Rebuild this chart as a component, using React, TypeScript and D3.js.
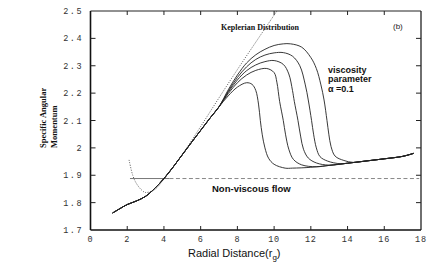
import React from "react";
import * as d3 from "d3";

// tick values and labels
const xTicks = [0, 2, 4, 6, 8, 10, 12, 14, 16, 18];
const yTicks = [1.7, 1.8, 1.9, 2, 2.1, 2.2, 2.3, 2.4, 2.5];
const yTickLabels = ["1.7", "1.8", "1.9", "2", "2.1", "2.2", "2.3", "2.4", "2.5"];

// common rising branch (shared by all viscous curves)
const rising = [[1.2, 1.762], [1.6, 1.778], [2, 1.793], [2.5, 1.806], [3, 1.823], [3.5, 1.852], [4, 1.888], [4.5, 1.93], [5, 1.975], [5.5, 2.02], [6, 2.064], [6.5, 2.108], [7, 2.15]];

// the five viscous curves after they fan out
const curve1 = [[7.5, 2.19], [8, 2.222], [8.5, 2.238], [8.8, 2.232], [9.0, 2.21], [9.15, 2.16], [9.25, 2.1], [9.35, 2.05], [9.5, 2.0], [9.7, 1.962], [10.0, 1.94], [10.6, 1.926]];
const curve2 = [[7.5, 2.198], [8, 2.238], [8.5, 2.266], [9, 2.283], [9.6, 2.29], [10.0, 2.275], [10.15, 2.24], [10.3, 2.17], [10.5, 2.1], [10.62, 2.05], [10.8, 1.995], [11.05, 1.958], [11.5, 1.938], [12.3, 1.931]];
const curve3 = [[7.5, 2.203], [8, 2.248], [8.5, 2.282], [9, 2.303], [9.5, 2.315], [10, 2.319], [10.5, 2.305], [10.8, 2.27], [11.0, 2.21], [11.1, 2.17], [11.3, 2.1], [11.45, 2.04], [11.6, 1.995], [11.86, 1.963], [12.3, 1.945], [13.0, 1.937]];
const curve4 = [[7.5, 2.207], [8, 2.257], [8.5, 2.296], [9, 2.323], [9.5, 2.339], [10, 2.347], [10.5, 2.348], [11, 2.335], [11.4, 2.3], [11.7, 2.23], [11.86, 2.175], [12.04, 2.1], [12.15, 2.05], [12.3, 2.0], [12.5, 1.968], [12.9, 1.952], [13.6, 1.942]];
const curve5 = [[7.5, 2.212], [8, 2.266], [8.5, 2.31], [9, 2.34], [9.5, 2.36], [10, 2.374], [10.5, 2.38], [10.9, 2.38], [11.5, 2.368], [12.0, 2.33], [12.3, 2.29], [12.55, 2.23], [12.72, 2.175], [12.88, 2.1], [12.98, 2.05], [13.1, 2.005], [13.32, 1.97], [13.8, 1.954], [14.3, 1.947]];

// lower branch all curves settle onto
const tail = [[10.6, 1.926], [11, 1.926], [12, 1.929], [13, 1.936], [14, 1.944], [15, 1.952], [16, 1.96], [17, 1.969], [17.6, 1.98]];

// keplerian distribution (dotted)
const kepler = [[2.1, 1.956], [2.3, 1.9], [2.5, 1.87], [2.8, 1.845], [3, 1.837], [3.5, 1.848], [4, 1.886], [5, 1.976], [6, 2.078], [7, 2.183], [8, 2.286], [9, 2.386], [10, 2.485], [10.15, 2.5]];

// non-viscous flow
const nonViscousSolid = [[2.15, 1.888], [4.3, 1.888]];
const nonViscousDashed = [[4.3, 1.888], [17.9, 1.888]];

const viscous = [curve1, curve2, curve3, curve4, curve5];

export default function App() {
  const x = d3.scaleLinear().domain([0, 18]).range([90.5, 421]);
  const y = d3.scaleLinear().domain([1.7, 2.5]).range([230, 11]);
  const line = d3.line<number[]>().x(d => x(d[0])).y(d => y(d[1])).curve(d3.curveCatmullRom.alpha(0.5));
  const straight = d3.line<number[]>().x(d => x(d[0])).y(d => y(d[1]));

  const full = (c: number[][]) => {
    const last = c[c.length - 1][0];
    return [...rising, ...c, ...tail.filter(p => p[0] > last + 0.3)];
  };

  const serif = "'Liberation Serif', 'DejaVu Serif', serif";
  const sans = "'Liberation Sans', Arial, sans-serif";
  const mono = "'Liberation Mono', 'DejaVu Sans Mono', monospace";
  const [x0, x1] = x.range();
  const [y0, y1] = y.range();

  return (
    <svg width={436} height={273} style={{ position: "absolute", left: 0, top: 0, background: "#fff" }}>
      {/* frame */}
      <line x1={x0} x2={x1} y1={y1} y2={y1} stroke="#222" strokeWidth={1} />
      <line x1={x1} x2={x1} y1={y1} y2={y0} stroke="#222" strokeWidth={1.3} />
      <line x1={x0} x2={x0} y1={y1} y2={y0} stroke="#111" strokeWidth={1.6} />
      <line x1={x0} x2={x1} y1={y0} y2={y0} stroke="#111" strokeWidth={1.6} />

      {/* ticks */}
      {xTicks.slice(1, -1).map(t => (
        <g key={"xt" + t}>
          <line x1={x(t)} x2={x(t)} y1={y0} y2={y0 - 4} stroke="#222" />
          <line x1={x(t)} x2={x(t)} y1={y1} y2={y1 + 4} stroke="#222" />
        </g>
      ))}
      {yTicks.slice(1, -1).map(t => (
        <g key={"yt" + t}>
          <line x1={x0} x2={x0 + 5} y1={y(t)} y2={y(t)} stroke="#222" />
          <line x1={x1} x2={x1 - 5} y1={y(t)} y2={y(t)} stroke="#222" />
        </g>
      ))}
      {xTicks.map(t => (
        <text key={"xl" + t} x={x(t)} y={242} textAnchor="middle" fontFamily={mono} fontSize={8.5} fill="#333" letterSpacing={0.8}>{t}</text>
      ))}
      {yTicks.map((t, i) => (
        <text key={"yl" + t} x={83} y={y(t) + 3} textAnchor="end" fontFamily={mono} fontSize={8.5} fill="#333" letterSpacing={1.5}>{yTickLabels[i]}</text>
      ))}

      {/* axis titles */}
      <text transform="translate(46,148) rotate(-90)" fontFamily={serif} fontWeight="bold" fontSize={8.5} fill="#111">Specific Angular</text>
      <text transform="translate(57,148) rotate(-90)" fontFamily={serif} fontWeight="bold" fontSize={8.5} fill="#111">Momentum</text>
      <text x={188} y={257} fontFamily={sans} fontSize={11} fill="#111">
        Radial Distance(r<tspan fontSize={8} dy={3}>g</tspan><tspan dy={-3}>)</tspan>
      </text>

      {/* curves */}
      <path d={line(kepler) || ""} fill="none" stroke="#444" strokeWidth={0.9} strokeDasharray="1,1.5" />
      <path d={straight(nonViscousSolid) || ""} fill="none" stroke="#777" strokeWidth={1} />
      <path d={straight(nonViscousDashed) || ""} fill="none" stroke="#888" strokeWidth={1} strokeDasharray="4,2.5" />
      {viscous.map((c, i) => (
        <path key={"c" + i} d={line(full(c)) || ""} fill="none" stroke="#222" strokeWidth={0.9} />
      ))}

      {/* annotations */}
      <text x={221} y={30} fontFamily={serif} fontWeight="bold" fontSize={8} fill="#111">Keplerian Distribution</text>
      <text x={393} y={29} fontFamily={sans} fontSize={8} fill="#222">(b)</text>
      <text x={328} y={73} fontFamily={sans} fontWeight="bold" fontSize={9} fill="#111">viscosity</text>
      <text x={328} y={82} fontFamily={sans} fontWeight="bold" fontSize={9} fill="#111">parameter</text>
      <text x={328} y={92} fontFamily={sans} fontWeight="bold" fontSize={9} fill="#111">α =0.1</text>
      <text x={212} y={191.5} fontFamily={sans} fontWeight="bold" fontSize={9.5} fill="#111">Non-viscous flow</text>
    </svg>
  );
}
